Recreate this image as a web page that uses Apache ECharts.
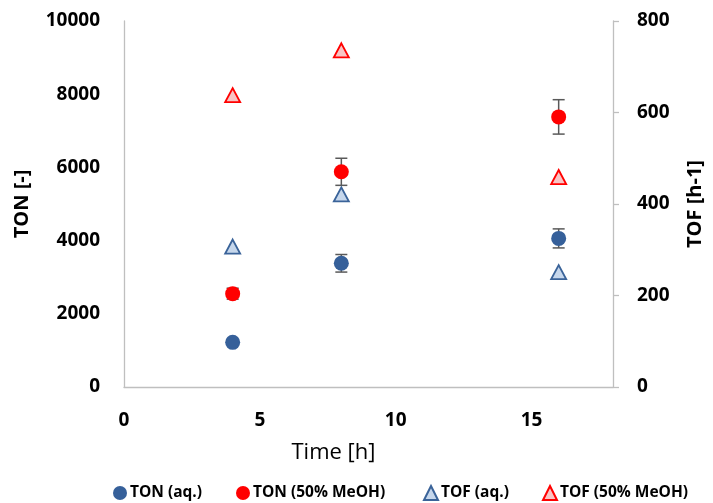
<!DOCTYPE html>
<html>
<head>
<meta charset="utf-8">
<script src="https://cdn.jsdelivr.net/npm/echarts@6/dist/echarts.min.js"></script>
<style>html,body{margin:0;padding:0;background:#fff}#c{width:713px;height:503px}</style>
</head>
<body>
<div id="c"></div>
<script>
var times = [4, 8, 16];
var tonAq = [1220, 3380, 4060];
var tonAqErr = [0, 240, 260];
var tonMeOH = [2550, 5880, 7380];
var tonMeOHErr = [150, 370, 470];
var tofAq = [307, 421, 251];
var tofMeOH = [638, 736, 459];
var xTicks = [0, 5, 10, 15];
var yLeftTicks = [0, 2000, 4000, 6000, 8000, 10000];
var yRightTicks = [0, 200, 400, 600, 800];
var legendNames = ['TON (aq.)', 'TON (50% MeOH)', 'TOF (aq.)', 'TOF (50% MeOH)'];

var FONT = '"Open Sans"';
function pts(xs, ys) { return xs.map(function (x, i) { return [x, ys[i]]; }); }
function errPts(xs, ys, es) { return xs.map(function (x, i) { return [x, ys[i] - es[i], ys[i] + es[i]]; }); }

function errRender(params, api) {
  var x = api.value(0), lo = api.value(1), hi = api.value(2);
  if (hi - lo <= 0) return null;
  var p1 = api.coord([x, hi]), p2 = api.coord([x, lo]);
  var w = 6;
  var st = { stroke: '#595959', lineWidth: 1.5 };
  return {
    type: 'group',
    children: [
      { type: 'line', shape: { x1: p1[0], y1: p1[1], x2: p2[0], y2: p2[1] }, style: st },
      { type: 'line', shape: { x1: p1[0] - w, y1: p1[1], x2: p1[0] + w, y2: p1[1] }, style: st },
      { type: 'line', shape: { x1: p2[0] - w, y1: p2[1], x2: p2[0] + w, y2: p2[1] }, style: st }
    ]
  };
}

var chart = echarts.init(document.getElementById('c'), null, { renderer: 'canvas' });
var axisLine = { show: true, lineStyle: { color: '#BFBFBF', width: 1.3 } };
var labelStyle = { fontFamily: FONT, fontWeight: 'bold', fontSize: 19, color: '#000' };
var legendLefts = [113, 236, 423, 542];

function mkLegend(i) {
  return {
    top: 485, left: legendLefts[i], padding: 0,
    itemWidth: 14, itemHeight: 14, itemGap: 0,
    textStyle: { fontFamily: FONT, fontWeight: 'bold', fontSize: 15.5, color: '#000', padding: [0, 0, 0, -2] },
    data: [legendNames[i]]
  };
}

chart.setOption({
  animation: false,
  backgroundColor: '#fff',
  textStyle: { fontFamily: FONT },
  grid: { left: 124, right: 98, top: 21, bottom: 116, containLabel: false },
  legend: [mkLegend(0), mkLegend(1), mkLegend(2), mkLegend(3)],
  xAxis: {
    type: 'value', min: xTicks[0], max: 18, interval: 5,
    name: 'Time [h]', nameLocation: 'middle', nameGap: 55,
    nameTextStyle: { fontFamily: FONT, fontSize: 22, color: '#000', padding: [0, 70, 0, 0] },
    axisLine: axisLine, axisTick: { show: false }, splitLine: { show: false },
    axisLabel: Object.assign({ margin: 24, showMaxLabel: false,
      formatter: function (v) { return xTicks.indexOf(v) >= 0 ? String(v) : ''; } }, labelStyle)
  },
  yAxis: [{
    type: 'value', min: yLeftTicks[0], max: yLeftTicks[yLeftTicks.length - 1], interval: 2000,
    name: 'TON [-]', nameLocation: 'middle', nameGap: 92, nameRotate: 90,
    nameTextStyle: { fontFamily: FONT, fontWeight: 'bold', fontSize: 20, color: '#000' },
    axisLine: axisLine, axisTick: { show: false }, splitLine: { show: false },
    axisLabel: Object.assign({ margin: 24, formatter: function (v) { return String(v); } }, labelStyle)
  }, {
    type: 'value', position: 'right', min: yRightTicks[0], max: yRightTicks[yRightTicks.length - 1], interval: 200,
    name: 'TOF [h-1]', nameLocation: 'middle', nameGap: 72, nameRotate: 90,
    nameTextStyle: { fontFamily: FONT, fontWeight: 'bold', fontSize: 20, color: '#000' },
    axisLine: axisLine, axisTick: { show: true, inside: false, length: 6, lineStyle: { color: '#BFBFBF', width: 1.3 } },
    splitLine: { show: false },
    axisLabel: Object.assign({ margin: 24, formatter: function (v) { return String(v); } }, labelStyle)
  }],
  series: [
    { type: 'custom', name: 'errAq', yAxisIndex: 0, renderItem: errRender, data: errPts(times, tonAq, tonAqErr), z: 1, silent: true, encode: { x: 0, y: [1, 2] } },
    { type: 'custom', name: 'errMeOH', yAxisIndex: 0, renderItem: errRender, data: errPts(times, tonMeOH, tonMeOHErr), z: 1, silent: true, encode: { x: 0, y: [1, 2] } },
    { type: 'scatter', name: legendNames[0], yAxisIndex: 0, symbol: 'circle', symbolSize: 15, z: 3,
      itemStyle: { color: '#36609A', opacity: 1 }, data: pts(times, tonAq) },
    { type: 'scatter', name: legendNames[1], yAxisIndex: 0, symbol: 'circle', symbolSize: 15, z: 3,
      itemStyle: { color: '#FF0000', opacity: 1 }, data: pts(times, tonMeOH) },
    { type: 'scatter', name: legendNames[2], yAxisIndex: 1, symbol: 'triangle', symbolSize: [15, 14], z: 3,
      itemStyle: { color: '#C6D7EC', borderColor: '#3A6399', borderWidth: 1.8, opacity: 1 }, data: pts(times, tofAq) },
    { type: 'scatter', name: legendNames[3], yAxisIndex: 1, symbol: 'triangle', symbolSize: [15, 14], z: 3,
      itemStyle: { color: '#F8C4C4', borderColor: '#FF0000', borderWidth: 1.8, opacity: 1 }, data: pts(times, tofMeOH) }
  ]
});
</script>
</body>
</html>
